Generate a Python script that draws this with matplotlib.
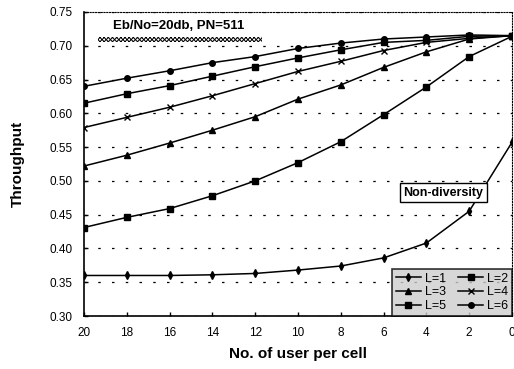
import matplotlib.pyplot as plt
import matplotlib.patches as mpatches

plt.rcParams['font.family'] = ['Liberation Sans', 'DejaVu Sans']
plt.rcParams['hatch.linewidth'] = 0.7

users = [20, 18, 16, 14, 12, 10, 8, 6, 4, 2, 0]

# throughput per diversity order (L=1 is the non-diversity case)
thr_l1 = [0.360, 0.360, 0.360, 0.361, 0.363, 0.368, 0.374, 0.386, 0.408, 0.455, 0.557]
thr_l2 = [0.431, 0.446, 0.459, 0.478, 0.500, 0.527, 0.558, 0.598, 0.639, 0.684, 0.714]
thr_l3 = [0.522, 0.538, 0.556, 0.575, 0.595, 0.621, 0.642, 0.668, 0.691, 0.710, 0.715]
thr_l4 = [0.579, 0.594, 0.609, 0.626, 0.644, 0.662, 0.677, 0.693, 0.705, 0.711, 0.715]
thr_l5 = [0.615, 0.629, 0.641, 0.655, 0.669, 0.682, 0.694, 0.705, 0.708, 0.714, 0.715]
thr_l6 = [0.640, 0.652, 0.663, 0.675, 0.684, 0.696, 0.704, 0.710, 0.713, 0.716, 0.715]

series = [('L=1', thr_l1, 'd'), ('L=2', thr_l2, 's'), ('L=3', thr_l3, '^'),
          ('L=4', thr_l4, 'x'), ('L=5', thr_l5, 's'), ('L=6', thr_l6, 'o')]

fig = plt.figure(figsize=(5.14, 3.69), dpi=100)
ax = fig.add_axes([0.1634, 0.1436, 0.8326, 0.8239])

lines = {}
for name, vals, mk in series:
    lines[name], = ax.plot(users, vals, color='black', linewidth=1.1, marker=mk,
                           markersize=4, markeredgewidth=1.0, label=name)

ax.set_xlim(20, 0)
ax.set_ylim(0.30, 0.75)
ax.set_xticks(users)
ax.set_yticks([0.30, 0.35, 0.40, 0.45, 0.50, 0.55, 0.60, 0.65, 0.70, 0.75])
ax.set_yticklabels(['%.2f' % v for v in ax.get_yticks()])
ax.tick_params(direction='in', length=3, labelsize=8.5, width=1)
ax.tick_params(axis='x', pad=8)
ax.tick_params(axis='y', pad=8)

# sparse dashed horizontal grid
ax.yaxis.grid(True, color='black', linestyle=(0, (2, 9)), linewidth=0.9)
ax.spines['top'].set_linestyle((0, (1, 1.5)))
ax.spines['right'].set_linestyle((0, (1, 1.5)))
ax.spines['top'].set_linewidth(0.8)
ax.spines['right'].set_linewidth(0.8)
ax.spines['left'].set_linewidth(1.2)
ax.spines['bottom'].set_linewidth(1.2)

ax.set_xlabel('No. of user per cell', fontsize=11, fontweight='bold', labelpad=6)
ax.set_ylabel('Throughput', fontsize=11, fontweight='bold', labelpad=18)

# title band with hatched shadow
ax.add_patch(mpatches.Rectangle((0.032, 0.902), 0.385, 0.016, transform=ax.transAxes,
                                facecolor='white', edgecolor='black', linewidth=0,
                                hatch='xxxxxxxx', zorder=4))
ax.text(0.222, 0.955, 'Eb/No=20db, PN=511', transform=ax.transAxes, ha='center',
        va='center', fontsize=9.5, fontweight='bold', zorder=5)

ax.text(0.84, 0.405, 'Non-diversity', transform=ax.transAxes, ha='center',
        va='center', fontsize=9, fontweight='bold',
        bbox=dict(facecolor='white', edgecolor='black', linewidth=1, pad=2.5), zorder=5)

# legend filled row by row: L=1 L=2 / L=3 L=4 / L=5 L=6
order = ['L=1', 'L=3', 'L=5', 'L=2', 'L=4', 'L=6']
leg = ax.legend([lines[k] for k in order], order,
                loc='lower left', bbox_to_anchor=(0.72, 0.0, 0.28, 0.17),
                mode='expand', ncol=2, fontsize=9, frameon=True, fancybox=False,
                borderaxespad=0.0, handlelength=2.0, handletextpad=0.3,
                columnspacing=0.8, labelspacing=0.15, borderpad=0.3)
frame = leg.get_frame()
frame.set_facecolor('#cdcdcd')
frame.set_edgecolor('black')
frame.set_linewidth(1.2)

fig.savefig('out.png', dpi=100)
